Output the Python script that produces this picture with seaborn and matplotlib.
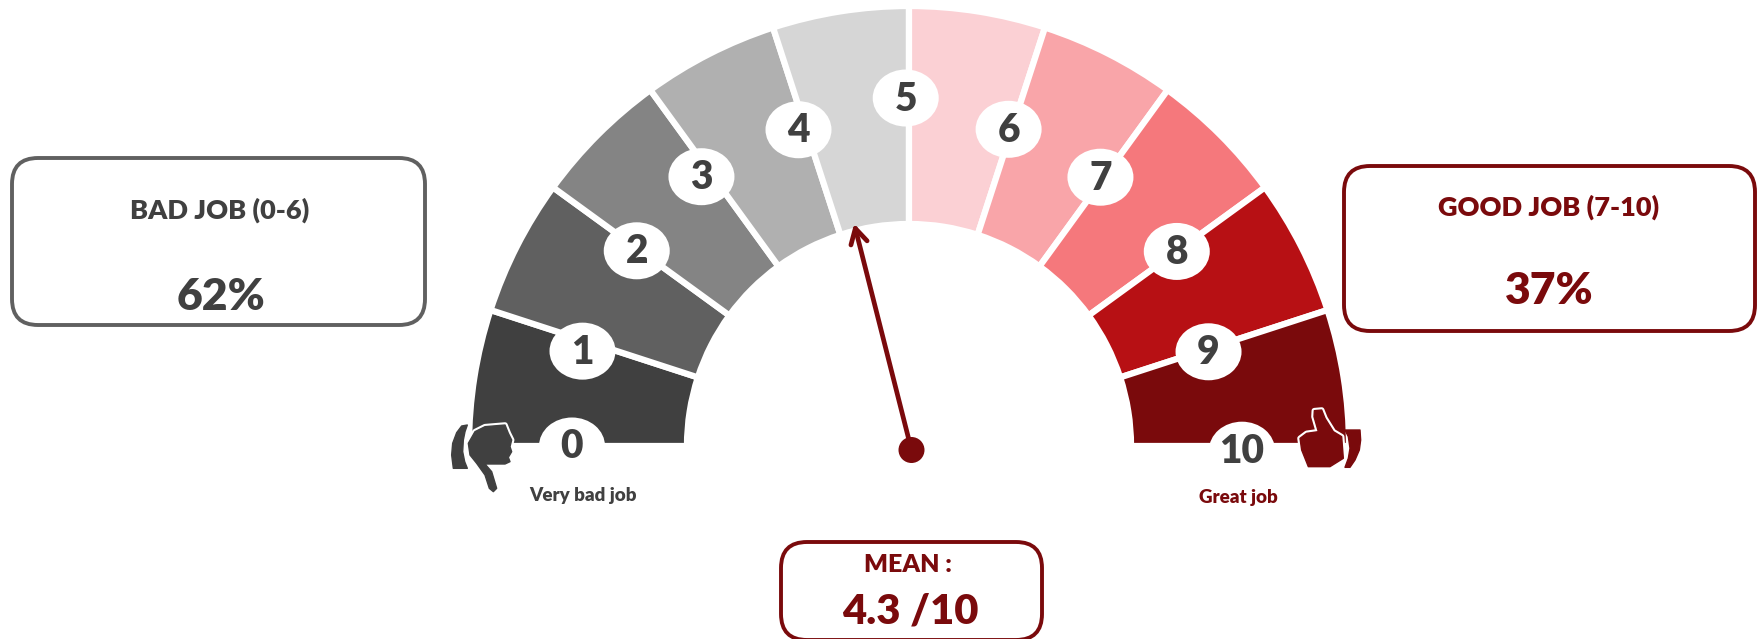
import numpy as np
import matplotlib
matplotlib.use('Agg')
import matplotlib.pyplot as plt
from matplotlib.patches import Ellipse, FancyBboxPatch, Polygon, Circle
import seaborn as sns

# Data
scale_labels = ['0', '1', '2', '3', '4', '5', '6', '7', '8', '9', '10']
segment_values = [0, 1, 2, 3, 4, 5, 6, 7, 8, 9]
segment_colors = ['#404040', '#606060', '#848484', '#b0b0b0', '#d6d6d6',
                  '#fbd0d4', '#f9a5a9', '#f5787c', '#b71014', '#7a0a0c']
needle_value = 4.23
bad_share = '62%'
good_share = '37%'

DARK = '#404040'
RED = '#7a0a0c'
W, H = 1758, 639
CX, CY = 909, 446
R_OUT, R_IN = 440, 222

sns.set_theme(style='white')
plt.rcParams['font.family'] = ['Lato', 'DejaVu Sans']
plt.rcParams['font.weight'] = 'heavy'


def to_theta(v):
    return np.pi - np.radians(v * 18)


def polar_xy(v, r):
    t = to_theta(v)
    return CX + r * np.cos(t), CY - r * np.sin(t)


fig = plt.figure(figsize=(W / 100, H / 100), dpi=100, facecolor='white')

# Gauge on a polar axes
pad = 4
rect = [(CX - R_OUT - pad) / W, 1 - (CY + R_OUT + pad) / H,
        2 * (R_OUT + pad) / W, 2 * (R_OUT + pad) / H]
pax = fig.add_axes(rect, projection='polar')
pax.set_ylim(0, R_OUT + pad)
pax.axis('off')
palette = sns.color_palette(segment_colors)
pax.bar([to_theta(v + 0.5) for v in segment_values], R_OUT - R_IN, width=np.radians(18),
        bottom=R_IN, color=palette, edgecolor='white', linewidth=4.5)

# Everything else in picture pixels
ax = fig.add_axes([0, 0, 1, 1], facecolor='none')
ax.set_xlim(0, W)
ax.set_ylim(H, 0)
ax.axis('off')

# Number badges sit on the segment borders, a little hand placed in the original
label_r = [337, 340, 335, 340, 335, 348, 332, 330, 331, 314, 333]
label_nudge = [0, -0.1, -0.02, -0.09, -0.07, -0.03, -0.03, -0.03, 0, 0.03, 0.04]
for lab, v, r, dv in zip(scale_labels, range(11), label_r, label_nudge):
    x, y = polar_xy(v + dv, r)
    ax.add_patch(Ellipse((x, y), 66, 57, fc='white', ec='none', zorder=3))
    ax.text(x, y + 1, lab, ha='center', va='center', fontsize=28, color=DARK, zorder=4)

# Needle
tip = polar_xy(needle_value, 229)
ax.annotate('', xy=tip, xytext=(911.5, 450),
            arrowprops=dict(arrowstyle='->,head_length=0.9,head_width=0.5', color=RED, lw=3.4,
                            shrinkA=0, shrinkB=0), zorder=5)
ax.add_patch(Circle((911.5, 450), 13, fc=RED, ec='none', zorder=6))


def box(x0, y0, x1, y1, color):
    ax.add_patch(FancyBboxPatch((x0 + 24, y0 + 24), x1 - x0 - 48, y1 - y0 - 48,
                                boxstyle='round,pad=24,rounding_size=26',
                                fc='white', ec=color, lw=2.8, zorder=2, clip_on=False))


box(12, 158, 425, 325, '#606060')
ax.text(220, 210, 'BAD JOB (0-6)', ha='center', va='center', fontsize=19.5, color=DARK)
ax.text(221, 297, bad_share, ha='center', va='center', fontsize=32, color=DARK)

box(1344, 166, 1755, 331, RED)
ax.text(1549, 207, 'GOOD JOB (7-10)', ha='center', va='center', fontsize=19.5, color=RED)
ax.text(1549, 291, good_share, ha='center', va='center', fontsize=32, color=RED)

box(781, 542, 1042, 640, RED)
ax.text(908, 565, 'MEAN :', ha='center', va='center', fontsize=18, color=RED)
ax.text(910, 612, '4.3 /10', ha='center', va='center', fontsize=30, color=RED)

ax.text(583, 496, 'Very bad job', ha='center', va='center', fontsize=13.5, color=DARK)
ax.text(1238, 497, 'Great job', ha='center', va='center', fontsize=13.5, color=RED)

# Hand icons, traced outlines
thumb_down = [(135, 155), (165, 140), (225, 135), (235, 160), (245, 180), (240, 200), (245, 215),
              (235, 232), (240, 245), (225, 252), (165, 252), (185, 275), (200, 325), (190, 335),
              (178, 325), (165, 285), (140, 250), (120, 225), (115, 190)]
thumb_up = [(510, 175), (530, 160), (565, 155), (552, 110), (553, 92), (575, 90), (585, 115),
            (610, 155), (635, 170), (640, 235), (600, 260), (535, 260), (525, 235), (515, 210)]
crescent_l = [(112, 135), (95, 138), (80, 158), (68, 190), (65, 225), (70, 265), (112, 265),
              (104, 245), (98, 215), (100, 180), (105, 155)]
crescent_r = [(645, 150), (690, 150), (692, 180), (688, 210), (675, 240), (660, 262), (645, 262),
              (655, 235), (660, 205), (655, 170)]


def icon(points, x0, y0, color, halo=True):
    pts = [(x0 + a / 3, y0 + b / 3) for a, b in points]
    if halo:
        ax.add_patch(Polygon(pts, fc='white', ec='white', lw=4, joinstyle='round', zorder=4))
    ax.add_patch(Polygon(pts, fc=color, ec=color, lw=1, joinstyle='round', zorder=4))


icon(thumb_down, 430, 380, DARK)
icon(crescent_l, 430, 380, DARK, halo=False)
icon(thumb_up, 1130, 380, RED)
icon(crescent_r, 1130, 380, RED, halo=False)

fig.savefig('out.png', dpi=100, facecolor='white')
